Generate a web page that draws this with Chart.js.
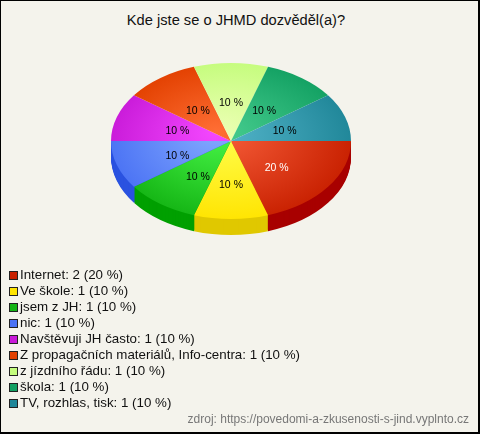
<!DOCTYPE html>
<html>
<head>
<meta charset="utf-8">
<script src="https://cdn.jsdelivr.net/npm/chart.js@4/dist/chart.umd.min.js"></script>
<style>
  body { margin: 0; }
  #box {
    position: relative; width: 477px; height: 431px;
    background: #f4f3ec; border-style: solid; border-color: #000;
    border-width: 1px 2px 2px 1px;
    font-family: "Liberation Sans", Arial, sans-serif; overflow: hidden;
  }
  #title { position: absolute; left: 0; width: 470px; top: 11px; text-align: center; font-size: 14.67px; color: #111; }
  #chart { position: absolute; left: -1px; top: -1px; }
  #legend { position: absolute; left: 8px; top: 266px; font-size: 13.33px; color: #111; }
  #legend div { height: 16px; line-height: 16px; white-space: nowrap; }
  #legend span { display: inline-block; width: 7px; height: 7px; border: 1px solid #222; margin-right: 2px; vertical-align: -1px; }
  #src { position: absolute; right: 9px; top: 411px; font-size: 12px; color: #777; }
</style>
</head>
<body>
<div id="box">
  <div id="title">Kde jste se o JHMD dozvěděl(a)?</div>
  <canvas id="chart" width="480" height="434"></canvas>
  <div id="legend"></div>
  <div id="src">zdroj: https://povedomi-a-zkusenosti-s-jind.vyplnto.cz</div>
</div>
<script>
const labels = ['Internet', 'Ve škole', 'jsem z JH', 'nic', 'Navštěvuji JH často',
  'Z propagačních materiálů, Info-centra', 'z jízdního řádu', 'škola', 'TV, rozhlas, tisk'];
const counts = [2, 1, 1, 1, 1, 1, 1, 1, 1];
const edgeColors = ['#c82000', '#ffe400', '#14b414', '#4a72f4', '#c81ad8', '#e24000', '#c4fc7c', '#12a062', '#1f8698'];
const lightColors = ['#f8603c', '#ffff50', '#48f648', '#84aaff', '#f448ff', '#ff6e34', '#ecffb4', '#48ce90', '#56b6cc'];
const sideColors = ['#a80000', '#e0c800', '#00a000', '#2a52e0', '#a010b0', '#b83000', '#a0d060', '#0a8048', '#15687a'];
const labelColors = ['#fff', '#000', '#000', '#000', '#000', '#000', '#000', '#000', '#000'];

const total = counts.reduce((a, b) => a + b, 0);
const squash = 0.65;
const depth = 16;

// legend as plain html
const legend = document.getElementById('legend');
labels.forEach((l, i) => {
  const row = document.createElement('div');
  const pct = Math.round(counts[i] / total * 100);
  row.innerHTML = `<span style="background:${edgeColors[i]}"></span>${l}: ${counts[i]} (${pct} %)`;
  legend.appendChild(row);
});

// fake 3d: squash the pie and draw a darker rim under the front slices
const pie3d = {
  id: 'pie3d',
  beforeDatasetsDraw(chart) {
    const ctx = chart.ctx;
    const meta = chart.getDatasetMeta(0);
    const cy = meta.data[0].y;
    for (let d = depth; d >= 1; d--) {
      ctx.save();
      ctx.translate(0, cy + d);
      ctx.scale(1, squash);
      ctx.translate(0, -cy);
      meta.data.forEach((arc, i) => {
        const mid = (arc.startAngle + arc.endAngle) / 2;
        if (Math.sin(mid) <= 0) return;
        const saved = arc.options.backgroundColor;
        arc.options.backgroundColor = sideColors[i];
        arc.draw(ctx);
        arc.options.backgroundColor = saved;
      });
      ctx.restore();
    }
    ctx.save();
    ctx.translate(0, cy);
    ctx.scale(1, squash);
    ctx.translate(0, -cy);
  },
  afterDatasetsDraw(chart) {
    const ctx = chart.ctx;
    ctx.restore();
    const meta = chart.getDatasetMeta(0);
    ctx.save();
    ctx.font = '10.5px "Liberation Sans", Arial, sans-serif';
    ctx.textAlign = 'center';
    ctx.textBaseline = 'middle';
    meta.data.forEach((arc, i) => {
      const mid = (arc.startAngle + arc.endAngle) / 2;
      const x = arc.x + Math.cos(mid) * arc.outerRadius * 0.47;
      const y = arc.y + 3 + Math.sin(mid) * arc.outerRadius * 0.34;
      ctx.fillStyle = labelColors[i];
      ctx.fillText(Math.round(counts[i] / total * 100) + ' %', x, y);
    });
    ctx.restore();
  }
};

new Chart(document.getElementById('chart'), {
  type: 'pie',
  data: {
    labels: labels,
    datasets: [{
      data: counts,
      borderWidth: 0,
      backgroundColor: (c) => {
        const area = c.chart.chartArea;
        if (!area) return edgeColors[c.dataIndex];
        const cx = (area.left + area.right) / 2;
        const cy = (area.top + area.bottom) / 2;
        const g = c.chart.ctx.createRadialGradient(cx - 15, cy - 15, 0, cx, cy, 125);
        g.addColorStop(0, lightColors[c.dataIndex]);
        g.addColorStop(1, edgeColors[c.dataIndex]);
        return g;
      }
    }]
  },
  options: {
    responsive: false,
    animation: false,
    rotation: 90,
    layout: { padding: { left: 111, right: 129, top: 21, bottom: 173 } },
    plugins: {
      legend: { display: false },
      title: { display: false },
      tooltip: { enabled: false }
    }
  },
  plugins: [pie3d]
});
</script>
</body>
</html>
